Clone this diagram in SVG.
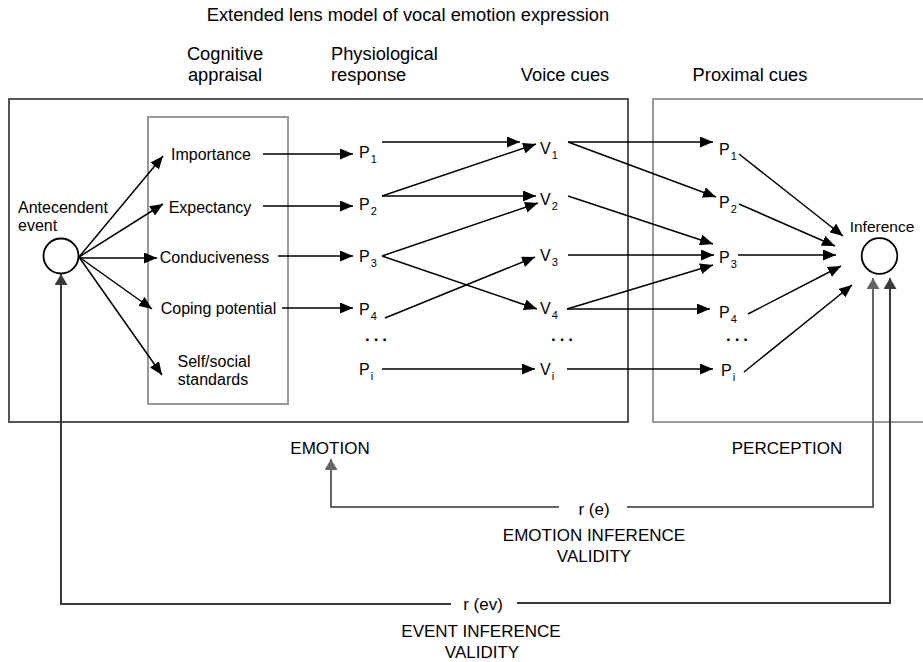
<svg xmlns="http://www.w3.org/2000/svg" width="923" height="662" viewBox="0 0 923 662">
<style>
text{font-family:"Liberation Sans",Arial,Helvetica,sans-serif;fill:#000}
.hd{font-size:18.3px}
.it{font-size:16px}
.lb{font-size:16px}
.sb{font-size:11px}
.bt{font-size:17px}
.dots{font-size:17px;font-weight:bold;letter-spacing:4px}
.c{stroke:#000;stroke-width:1.5;fill:none;marker-end:url(#ah)}
.fbg{stroke:#666;stroke-width:2;fill:none;marker-end:url(#ahg)}
.fbd{stroke:#3a3a3a;stroke-width:2;fill:none;marker-end:url(#ahd)}
</style>
<defs>
<marker id="ah" viewBox="0 0 13 11" refX="13" refY="5.5" markerWidth="13" markerHeight="11" markerUnits="userSpaceOnUse" orient="auto"><path d="M0,0 L13,5.5 L0,11 z" fill="#000"/></marker>
<marker id="ahg" viewBox="0 0 11 13" refX="11" refY="6.5" markerWidth="11" markerHeight="13" markerUnits="userSpaceOnUse" orient="auto"><path d="M0,0 L11,6.5 L0,13 z" fill="#666"/></marker>
<marker id="ahd" viewBox="0 0 11 13" refX="11" refY="6.5" markerWidth="11" markerHeight="13" markerUnits="userSpaceOnUse" orient="auto"><path d="M0,0 L11,6.5 L0,13 z" fill="#3a3a3a"/></marker>
</defs>
<rect width="923" height="662" fill="#fff"/>

<g id="headers">
<text class="hd" x="408" y="21" text-anchor="middle">Extended lens model of vocal emotion expression</text>
<text class="hd" x="225" y="60" text-anchor="middle">Cognitive</text>
<text class="hd" x="225" y="81" text-anchor="middle">appraisal</text>
<text class="hd" x="331" y="60">Physiological</text>
<text class="hd" x="331" y="81">response</text>
<text class="hd" x="565" y="81" text-anchor="middle">Voice cues</text>
<text class="hd" x="750" y="81" text-anchor="middle">Proximal cues</text>
</g>

<g id="emotion-box"><rect x="9" y="99" width="619" height="323" fill="none" stroke="#555" stroke-width="2"/></g>
<g id="perception-box"><rect x="653" y="99" width="290" height="323" fill="none" stroke="#999" stroke-width="2"/></g>
<g id="appraisal-box"><rect x="148" y="117" width="140" height="287" fill="none" stroke="#999" stroke-width="2"/></g>

<g id="connectors">
<path class="c" d="M79,257 L163,156"/>
<path class="c" d="M79,257 L163,204"/>
<path class="c" d="M79,258 L157,258"/>
<path class="c" d="M79,257 L152,309"/>
<path class="c" d="M79,257 L162,375"/>

<path class="c" d="M263,154 L353,154"/>
<path class="c" d="M263,206 L353,206"/>
<path class="c" d="M278,256 L353,256"/>
<path class="c" d="M282,308 L353,308"/>

<path class="c" d="M382,142 L520,142"/>
<path class="c" d="M382,196 L536,144"/>
<path class="c" d="M382,196 L536,196"/>
<path class="c" d="M382,256 L538,203"/>
<path class="c" d="M382,256 L537,309"/>
<path class="c" d="M385,318 L535,257"/>
<path class="c" d="M382,369 L535,369"/>

<path class="c" d="M568,142 L713,142"/>
<path class="c" d="M568,142 L716,197"/>
<path class="c" d="M568,196 L713,244"/>
<path class="c" d="M568,255 L714,255"/>
<path class="c" d="M567,309 L713,265"/>
<path class="c" d="M567,309 L710,309"/>
<path class="c" d="M567,369 L713,369"/>

<path class="c" d="M739,154 L843,236"/>
<path class="c" d="M739,204 L835,246"/>
<path class="c" d="M738,255 L836,255"/>
<path class="c" d="M748,314 L841,266"/>
<path class="c" d="M744,372 L852,285"/>

<path class="fbg" d="M559,507 L331,507 L331,459"/>
<path class="fbg" d="M627,507 L873,507 L873,278"/>
<path class="fbd" d="M451,604 L61,604 L61,274"/>
<path class="fbd" d="M517,603 L890,603 L890,278"/>
</g>

<g id="antecedent">
<circle cx="61" cy="256" r="17.5" fill="#fff" stroke="#000" stroke-width="1.8"/>
<text class="it" x="18" y="213">Antecendent</text>
<text class="it" x="18" y="231">event</text>
</g>

<g id="inference">
<circle cx="879.5" cy="256" r="17.8" fill="#fff" stroke="#000" stroke-width="1.8"/>
<text class="it" x="882" y="232" text-anchor="middle" style="font-size:15.5px">Inference</text>
</g>

<g id="appraisal-items">
<text class="it" x="211" y="160" text-anchor="middle">Importance</text>
<text class="it" x="210" y="212.5" text-anchor="middle">Expectancy</text>
<text class="it" x="214.5" y="263" text-anchor="middle">Conduciveness</text>
<text class="it" x="218.5" y="314" text-anchor="middle">Coping potential</text>
<text class="it" x="214" y="366.5" text-anchor="middle">Self/social</text>
<text class="it" x="213" y="385" text-anchor="middle">standards</text>
</g>

<g id="physiological">
<text class="lb" x="359" y="158">P<tspan class="sb" dx="1" dy="5">1</tspan></text>
<text class="lb" x="359" y="210">P<tspan class="sb" dx="1" dy="5">2</tspan></text>
<text class="lb" x="359" y="261.5">P<tspan class="sb" dx="1" dy="5">3</tspan></text>
<text class="lb" x="359" y="314.5">P<tspan class="sb" dx="1" dy="5">4</tspan></text>
<text class="dots" x="378" y="341" text-anchor="middle">...</text>
<text class="lb" x="359" y="375">P<tspan class="sb" dx="1" dy="5">i</tspan></text>
</g>

<g id="voice">
<text class="lb" x="540" y="154">V<tspan class="sb" dx="1" dy="5">1</tspan></text>
<text class="lb" x="540" y="205">V<tspan class="sb" dx="1" dy="5">2</tspan></text>
<text class="lb" x="540" y="261">V<tspan class="sb" dx="1" dy="5">3</tspan></text>
<text class="lb" x="540" y="314">V<tspan class="sb" dx="1" dy="5">4</tspan></text>
<text class="dots" x="564" y="341" text-anchor="middle">...</text>
<text class="lb" x="540" y="375">V<tspan class="sb" dx="1" dy="5">i</tspan></text>
</g>

<g id="proximal">
<text class="lb" x="719" y="155">P<tspan class="sb" dx="1" dy="5">1</tspan></text>
<text class="lb" x="719" y="207.5">P<tspan class="sb" dx="1" dy="5">2</tspan></text>
<text class="lb" x="719" y="262.5">P<tspan class="sb" dx="1" dy="5">3</tspan></text>
<text class="lb" x="719" y="317.5">P<tspan class="sb" dx="1" dy="5">4</tspan></text>
<text class="dots" x="739" y="341" text-anchor="middle">...</text>
<text class="lb" x="721" y="376">P<tspan class="sb" dx="1" dy="5">i</tspan></text>
</g>

<g id="labels">
<text class="bt" x="330" y="454" text-anchor="middle">EMOTION</text>
<text class="bt" x="787" y="454" text-anchor="middle">PERCEPTION</text>
<text class="bt" x="594" y="515" text-anchor="middle">r (e)</text>
<text class="bt" x="594" y="541" text-anchor="middle">EMOTION INFERENCE</text>
<text class="bt" x="594" y="562" text-anchor="middle">VALIDITY</text>
<text class="bt" x="483" y="610" text-anchor="middle">r (ev)</text>
<text class="bt" x="481" y="637" text-anchor="middle">EVENT INFERENCE</text>
<text class="bt" x="482" y="658" text-anchor="middle">VALIDITY</text>
</g>
</svg>
